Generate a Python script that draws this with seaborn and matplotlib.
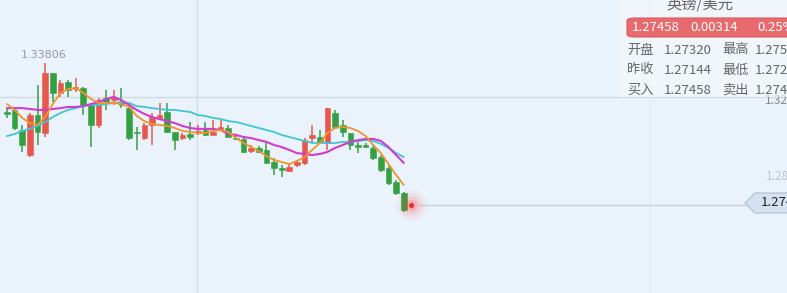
import numpy as np
import pandas as pd
import matplotlib
matplotlib.use("Agg")
import matplotlib.pyplot as plt
import seaborn as sns
from matplotlib.patches import FancyBboxPatch, Polygon, Rectangle

# ---------------- data ----------------
opens = [1.3162, 1.3171, 1.3081, 1.2969, 1.3148, 1.3068, 1.3336, 1.3247, 1.3296, 1.3264,
         1.3269, 1.3193, 1.3104, 1.3224, 1.3215, 1.3206, 1.3179, 1.3072, 1.3045, 1.3104,
         1.3135, 1.3162, 1.3072, 1.3045, 1.3063, 1.3068, 1.3081, 1.3059, 1.3081, 1.3090,
         1.3045, 1.3041, 1.2987, 1.3001, 1.2992, 1.2938, 1.2911, 1.2898, 1.2925, 1.2934,
         1.3045, 1.3050, 1.3023, 1.3157, 1.3104, 1.3068, 1.3014, 1.3014, 1.3001, 1.2960,
         1.2911, 1.2849, 1.2800]
highs = [1.3179, 1.3179, 1.3104, 1.3157, 1.3282, 1.33806, 1.3336, 1.3305, 1.3305, 1.3314,
         1.3273, 1.3202, 1.3224, 1.3260, 1.3260, 1.3269, 1.3193, 1.3095, 1.3112, 1.3157,
         1.3202, 1.3202, 1.3072, 1.3068, 1.3117, 1.3104, 1.3117, 1.3126, 1.3126, 1.3104,
         1.3059, 1.3045, 1.3014, 1.3010, 1.3028, 1.2956, 1.2925, 1.2929, 1.2947, 1.3045,
         1.3104, 1.3081, 1.3179, 1.3171, 1.3126, 1.3068, 1.3028, 1.3023, 1.3010, 1.2969,
         1.2925, 1.2858, 1.2804]
lows = [1.3135, 1.3081, 1.2983, 1.2960, 1.3014, 1.3050, 1.3206, 1.3229, 1.3229, 1.3251,
        1.3148, 1.3005, 1.3090, 1.3171, 1.3193, 1.3179, 1.3036, 1.2992, 1.3036, 1.3014,
        1.3126, 1.3068, 1.2992, 1.3036, 1.3036, 1.3059, 1.3054, 1.3059, 1.3077, 1.3050,
        1.3036, 1.2978, 1.2978, 1.2978, 1.2934, 1.2880, 1.2871, 1.2893, 1.2916, 1.2925,
        1.3028, 1.3023, 1.2992, 1.3090, 1.3050, 1.2992, 1.2978, 1.3001, 1.2947, 1.2893,
        1.2835, 1.2791, 1.2715]
closes = [1.3153, 1.3090, 1.3014, 1.3148, 1.3072, 1.3336, 1.3247, 1.3291, 1.3260, 1.3273,
          1.3193, 1.3104, 1.3215, 1.3206, 1.3224, 1.3193, 1.3045, 1.3068, 1.3104, 1.3139,
          1.3148, 1.3072, 1.3036, 1.3059, 1.3050, 1.3077, 1.3059, 1.3072, 1.3095, 1.3050,
          1.3041, 1.2983, 1.3001, 1.2983, 1.2934, 1.2911, 1.2902, 1.2916, 1.2938, 1.3036,
          1.3059, 1.3028, 1.3179, 1.3095, 1.3072, 1.3014, 1.3005, 1.3005, 1.2956, 1.2902,
          1.2844, 1.2800, 1.2724]

ma_orange = [1.3197, 1.3171, 1.3135, 1.3112, 1.3104, 1.3139, 1.3197, 1.3247, 1.3264, 1.3269,
             1.3247, 1.3220, 1.3202, 1.3202, 1.3202, 1.3197, 1.3184, 1.3144, 1.3121, 1.3108,
             1.3104, 1.3099, 1.3090, 1.3077, 1.3072, 1.3068, 1.3068, 1.3077, 1.3081, 1.3072,
             1.3045, 1.3023, 1.3005, 1.2987, 1.2965, 1.2947, 1.2938, 1.2929, 1.2943, 1.2960,
             1.2992, 1.3023, 1.3068, 1.3090, 1.3095, 1.3090, 1.3077, 1.3054, 1.3014, 1.2978,
             1.2929, 1.2880, 1.2835]
ma_magenta = [1.3179, 1.3179, 1.3179, 1.3175, 1.3171, 1.3171, 1.3175, 1.3179, 1.3184, 1.3184,
              1.3188, 1.3197, 1.3206, 1.3220, 1.3229, 1.3215, 1.3193, 1.3171, 1.3153, 1.3139,
              1.3130, 1.3121, 1.3112, 1.3099, 1.3090, 1.3086, 1.3086, 1.3086, 1.3081, 1.3063,
              1.3059, 1.3050, 1.3045, 1.3036, 1.3028, 1.3014, 1.3005, 1.2992, 1.2978, 1.2974,
              1.2969, 1.2974, 1.2983, 1.3001, 1.3014, 1.3028, 1.3036, 1.3041, 1.3041, 1.3032,
              1.3005, 1.2969, 1.2934]
ma_cyan = [1.3054, 1.3063, 1.3077, 1.3086, 1.3099, 1.3117, 1.3139, 1.3157, 1.3171, 1.3179,
           1.3188, 1.3193, 1.3193, 1.3197, 1.3202, 1.3206, 1.3202, 1.3188, 1.3184, 1.3179,
           1.3175, 1.3171, 1.3171, 1.3166, 1.3162, 1.3148, 1.3144, 1.3135, 1.3130, 1.3121,
           1.3117, 1.3108, 1.3099, 1.3090, 1.3081, 1.3072, 1.3059, 1.3050, 1.3041, 1.3032,
           1.3023, 1.3023, 1.3023, 1.3023, 1.3028, 1.3028, 1.3032, 1.3036, 1.3032, 1.3019,
           1.3001, 1.2978, 1.2960]

high_label = "1.33806"
last_price = 1.27458
panel_title = "英镑/美元"
quote_bar = ["1.27458", "0.00314", "0.25%"]
panel_rows = [["开盘", "1.27320", "最高", "1.27520"],
              ["昨收", "1.27144", "最低", "1.27220"],
              ["买入", "1.27458", "卖出", "1.27468"]]
axis_labels = ["1.32", "1.28"]

# ---------------- style ----------------
sns.set_style("white")
plt.rcParams['font.family'] = ['Noto Sans CJK SC', 'DejaVu Sans']

W, H = 787, 293
fig = plt.figure(figsize=(W / 100, H / 100), dpi=100)
ax = fig.add_axes([0, 0, 1, 1])
bg = "#eaf2fb"
fig.patch.set_facecolor(bg)
ax.set_facecolor(bg)

px0, dpx = 7.0, 7.63
XLIM = (-px0 / dpx, (W - px0) / dpx)
YLIM = (1.23525, 1.36622)

def fx(px):
    return px / W

def fy(py):
    return 1 - py / H

# grid lines
ax.axhline(1.3229, color="#d2d9e1", lw=1, zorder=0)
ax.axvline((197 - px0) / dpx, color="#d5dce4", lw=1, zorder=0)
ax.axvline((650 - px0) / dpx, color="#e1e8f0", lw=1, zorder=0)

# candles
idx = np.arange(len(opens))
o = np.array(opens); c = np.array(closes); h = np.array(highs); l = np.array(lows)
up = c >= o
red, green = "#e8574c", "#35a043"
colors = np.where(up, red, green)
ax.vlines(idx, l, h, colors=colors, lw=1.1, zorder=2)
body_bottom = np.minimum(o, c)
body_h = np.maximum(np.abs(c - o), 0.00025)
ax.bar(idx, body_h, bottom=body_bottom, width=0.74, color=colors, edgecolor=colors,
       lw=0.4, zorder=3)

# moving averages through seaborn
df = pd.DataFrame({"i": idx, "o": ma_orange, "m": ma_magenta, "c": ma_cyan})
sns.lineplot(data=df, x="i", y="c", ax=ax, color="#3fc6d6", lw=1.3, zorder=4)
sns.lineplot(data=df, x="i", y="m", ax=ax, color="#d23ad0", lw=1.5, zorder=5)
sns.lineplot(data=df, x="i", y="o", ax=ax, color="#f0952c", lw=1.3, zorder=6)
ax.set_xlabel(""); ax.set_ylabel("")
ax.set_xlim(*XLIM)
ax.set_ylim(*YLIM)
ax.set_xticks([]); ax.set_yticks([])
for s in ax.spines.values():
    s.set_visible(False)

# last price line and glowing dot
ax.axhline(last_price, xmin=fx(420), xmax=fx(748), color="#c9d2dc", lw=1, zorder=1)
xd = (411 - px0) / dpx
for s, a in [(520, 0.04), (320, 0.07), (170, 0.11), (70, 0.2)]:
    ax.scatter([xd], [last_price], s=s, color="#ff4040", alpha=a, lw=0, zorder=7)
ax.scatter([xd], [last_price], s=14, color="#f03030", lw=0, zorder=8)

# high label
ax.text(fx(44), fy(55), high_label, transform=ax.transAxes, ha="center", va="center",
        fontsize=8, color="#9a9a9a", family=['DejaVu Sans'])

# right axis labels (cropped by the figure edge)
ax.text(fx(765), fy(101), axis_labels[0], transform=ax.transAxes, ha="left", va="center",
        fontsize=8.5, color="#8a8a8a", zorder=9)
ax.text(fx(766), fy(177), axis_labels[1], transform=ax.transAxes, ha="left", va="center",
        fontsize=8.5, color="#c0c4c8", zorder=9)

# price tag
tag = Polygon([[fx(745), fy(203)], [fx(755), fy(193)], [fx(800), fy(193)],
               [fx(800), fy(213)], [fx(755), fy(213)]], closed=True,
              transform=ax.transAxes, facecolor="#d5e1f0", edgecolor="#b8c6d8", lw=1, zorder=9)
ax.add_patch(tag)
ax.text(fx(761), fy(203), f"{last_price:.5f}", transform=ax.transAxes, ha="left", va="center",
        fontsize=9.5, color="#222222", zorder=10)

# info panel
ax.add_patch(Rectangle((fx(620), fy(97)), fx(200), 97 / H, transform=ax.transAxes,
                       facecolor="#f6f9fc", alpha=0.6, lw=0, zorder=9))
ax.text(fx(700), fy(4), panel_title, transform=ax.transAxes, ha="center", va="center",
        fontsize=11, color="#666666", zorder=10)
bar = FancyBboxPatch((fx(627), fy(37)), fx(200), 19 / H, boxstyle="round,pad=0,rounding_size=0.01",
                     transform=ax.transAxes, facecolor="#e86a6e", edgecolor="#d95a5e",
                     lw=0.8, zorder=10)
ax.add_patch(bar)
for xt, t in zip([632, 690, 757], quote_bar):
    ax.text(fx(xt), fy(27.5), t, transform=ax.transAxes, ha="left", va="center",
            fontsize=9.5, color="white", zorder=11)
for r, row in enumerate(panel_rows):
    yy = fy(50 + r * 20)
    for xt, t in zip([627, 664, 722, 755], row):
        ax.text(fx(xt), yy, t, transform=ax.transAxes, ha="left", va="center",
                fontsize=9.5, color="#666666", zorder=11)

fig.savefig("out.png", dpi=100, facecolor=bg)
